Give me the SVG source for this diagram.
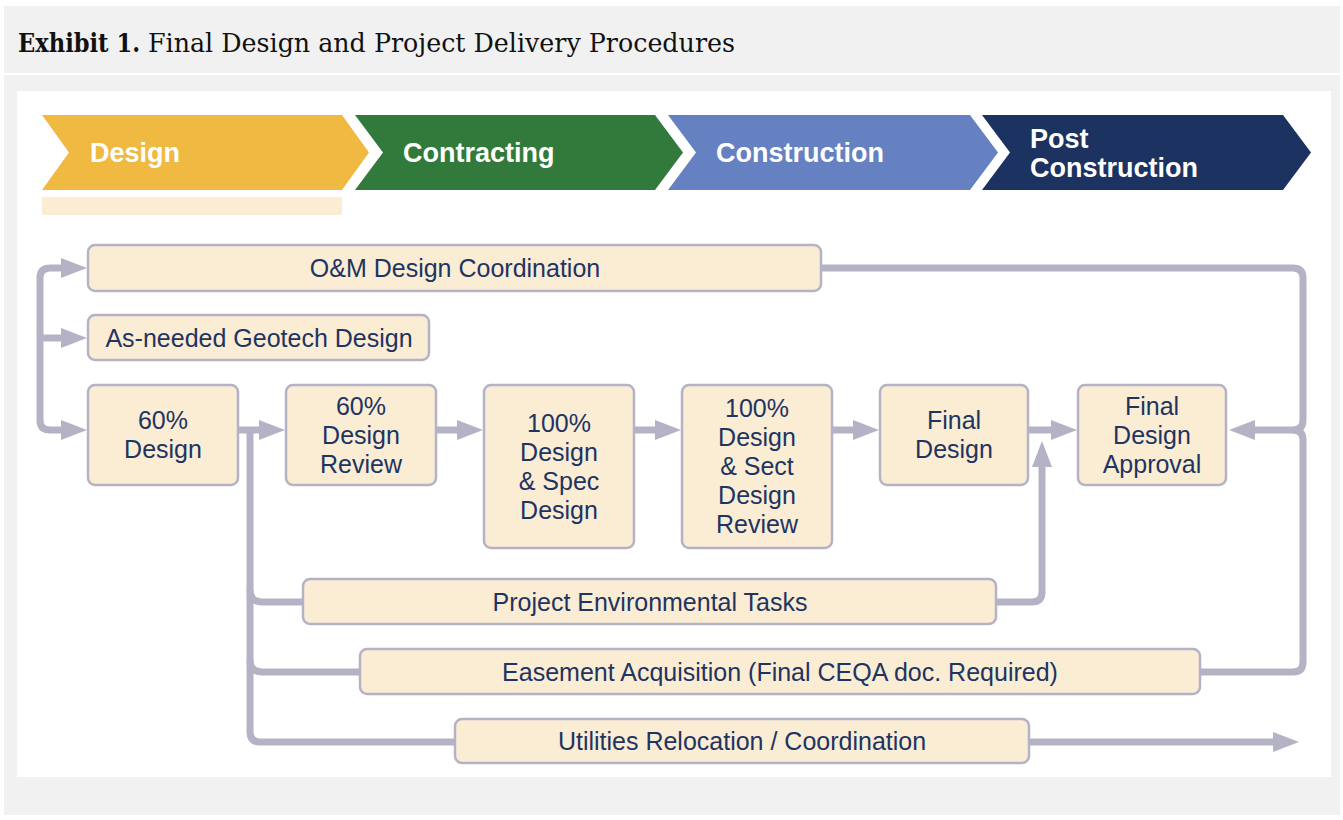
<svg xmlns="http://www.w3.org/2000/svg" width="1343" height="820" viewBox="0 0 1343 820">
<defs>
<style>
.bg{fill:#f1f1f1}
.chev-t{font-family:"Liberation Sans",Arial,sans-serif;font-weight:bold;font-size:27px;fill:#ffffff}
.box{fill:#fbecd4;stroke:#b4b3c6;stroke-width:2.5}
.t{font-family:"Liberation Sans",Arial,sans-serif;font-size:25px;fill:#1e3461;text-anchor:middle}
.c{fill:none;stroke:#b4b3c6;stroke-width:7;stroke-linejoin:round}
.a{marker-end:url(#ah)}
.title{font-family:"DejaVu Serif","Liberation Serif",serif;font-size:26px;fill:#111111}
</style>
<marker id="ah" markerUnits="userSpaceOnUse" markerWidth="30" markerHeight="24" viewBox="0 -12 30 24" refX="1" refY="0" orient="auto">
<path d="M0,-10 L26,0 L0,10 z" fill="#b4b3c6"/>
</marker>
</defs>
<rect width="1343" height="820" fill="#ffffff"/>
<rect class="bg" x="4" y="6" width="1336" height="67"/>
<rect class="bg" x="4" y="75" width="1336" height="740"/>
<rect x="17" y="91" width="1314" height="686" fill="#ffffff"/>
<g id="title">
<text class="title" x="18" y="52" font-weight="bold" textLength="122" lengthAdjust="spacingAndGlyphs">Exhibit 1.</text>
<text class="title" x="148" y="52" textLength="587" lengthAdjust="spacingAndGlyphs">Final Design and Project Delivery Procedures</text>
</g>
<g id="phases">
<g id="phase-design">
<polygon points="42,115 342,115 369,152.5 342,190 42,190 69,152.5" fill="#f0b942"/>
<text class="chev-t" x="90" y="162">Design</text>
<rect x="42" y="197" width="300" height="18" fill="#fbecd4"/>
</g>
<g id="phase-contracting">
<polygon points="355,115 655,115 683,152.5 655,190 355,190 383,152.5" fill="#327a3c"/>
<text class="chev-t" x="403" y="162">Contracting</text>
</g>
<g id="phase-construction">
<polygon points="668,115 970,115 998,152.5 970,190 668,190 696,152.5" fill="#6581c1"/>
<text class="chev-t" x="716" y="162">Construction</text>
</g>
<g id="phase-post">
<polygon points="982,115 1283,115 1311,152.5 1283,190 982,190 1010,152.5" fill="#1c3260"/>
<text class="chev-t" x="1030" y="148">Post</text>
<text class="chev-t" x="1030" y="177">Construction</text>
</g>
</g>
<g id="connectors">
<path class="c a" d="M40,338 V278 Q40,268 50,268 H62"/>
<path class="c a" d="M40,338 H62"/>
<path class="c a" d="M40,338 V420 Q40,430 50,430 H62"/>
<path class="c a" d="M238,430 H260"/>
<path class="c" d="M250,430 V732 Q250,742 260,742 H456"/>
<path class="c" d="M250,590 Q250,602 262,602 H304"/>
<path class="c" d="M250,660 Q250,672 262,672 H361"/>
<path class="c a" d="M436,430 H458"/>
<path class="c a" d="M634,430 H656"/>
<path class="c a" d="M832,430 H854"/>
<path class="c a" d="M1028,430 H1052"/>
<path class="c a" d="M996,602 H1032 Q1042,602 1042,592 V466"/>
<path class="c" d="M821,268 H1293 Q1303,268 1303,278 V420 Q1303,430 1293,430"/>
<path class="c a" d="M1200,672 H1293 Q1303,672 1303,662 V440 Q1303,430 1293,430 H1254"/>
<path class="c a" d="M1029,742 H1274"/>
</g>
<g id="node-om">
<rect class="box" x="88" y="245" width="733" height="46" rx="7"/>
<text class="t" x="455" y="277">O&amp;M Design Coordination</text>
</g>
<g id="node-geotech">
<rect class="box" x="88" y="315" width="341" height="45" rx="7"/>
<text class="t" x="259" y="347">As-needed Geotech Design</text>
</g>
<g id="node-60-design">
<rect class="box" x="88" y="385" width="150" height="100" rx="7"/>
<text class="t" x="163" y="429">60%</text>
<text class="t" x="163" y="458">Design</text>
</g>
<g id="node-60-review">
<rect class="box" x="286" y="385" width="150" height="100" rx="7"/>
<text class="t" x="361" y="415">60%</text>
<text class="t" x="361" y="444">Design</text>
<text class="t" x="361" y="473">Review</text>
</g>
<g id="node-100-spec">
<rect class="box" x="484" y="385" width="150" height="163" rx="7"/>
<text class="t" x="559" y="432">100%</text>
<text class="t" x="559" y="461">Design</text>
<text class="t" x="559" y="490">&amp; Spec</text>
<text class="t" x="559" y="519">Design</text>
</g>
<g id="node-100-sect">
<rect class="box" x="682" y="385" width="150" height="163" rx="7"/>
<text class="t" x="757" y="417">100%</text>
<text class="t" x="757" y="446">Design</text>
<text class="t" x="757" y="475">&amp; Sect</text>
<text class="t" x="757" y="504">Design</text>
<text class="t" x="757" y="533">Review</text>
</g>
<g id="node-final-design">
<rect class="box" x="880" y="385" width="148" height="100" rx="7"/>
<text class="t" x="954" y="429">Final</text>
<text class="t" x="954" y="458">Design</text>
</g>
<g id="node-final-approval">
<rect class="box" x="1078" y="385" width="148" height="100" rx="7"/>
<text class="t" x="1152" y="415">Final</text>
<text class="t" x="1152" y="444">Design</text>
<text class="t" x="1152" y="473">Approval</text>
</g>
<g id="node-env">
<rect class="box" x="303" y="579" width="693" height="45" rx="7"/>
<text class="t" x="650" y="611">Project Environmental Tasks</text>
</g>
<g id="node-easement">
<rect class="box" x="360" y="649" width="840" height="45" rx="7"/>
<text class="t" x="780" y="681">Easement Acquisition (Final CEQA doc. Required)</text>
</g>
<g id="node-utilities">
<rect class="box" x="455" y="719" width="574" height="44" rx="7"/>
<text class="t" x="742" y="750">Utilities Relocation / Coordination</text>
</g>
</svg>
